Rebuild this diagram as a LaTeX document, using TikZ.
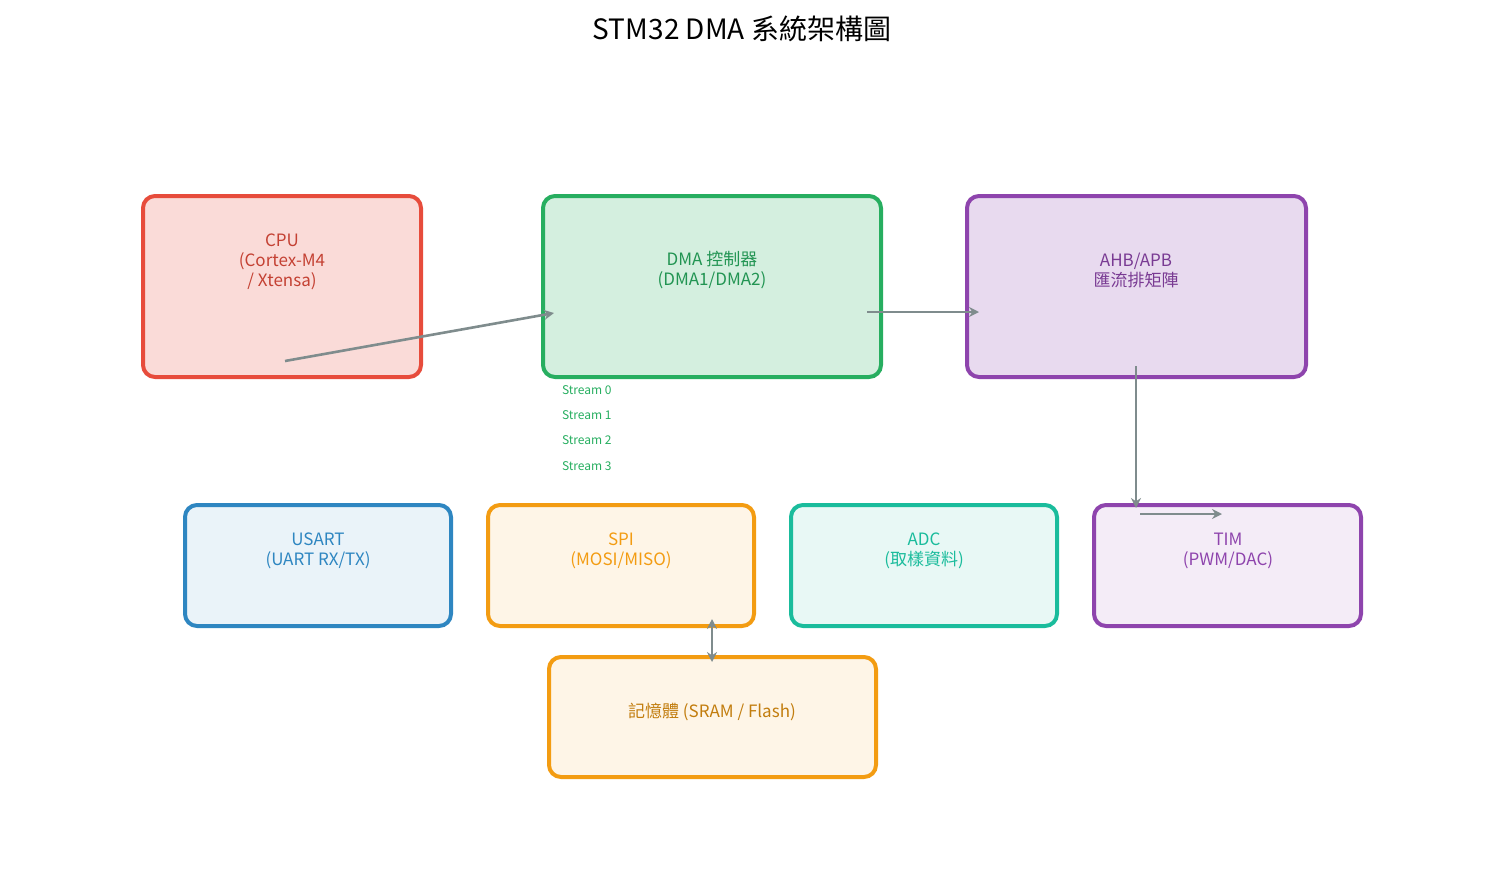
\documentclass[tikz,border=0pt]{standalone}
\usepackage{fontspec}
\setmainfont{Noto Sans CJK TC}
\usetikzlibrary{arrows.meta}
\definecolor{cpuc}{HTML}{E74C3C}
\definecolor{dmac}{HTML}{27AE60}
\definecolor{busc}{HTML}{8E44AD}
\definecolor{usartc}{HTML}{2E86C1}
\definecolor{spic}{HTML}{F39C12}
\definecolor{adcc}{HTML}{1ABC9C}
\definecolor{arrc}{HTML}{7F8C8D}
\tikzset{
  box/.style={draw, line width=2pt, rounded corners=6pt},
  lbl/.style={font=\fontsize{8.5}{10}\selectfont, align=center},
  link/.style={draw=arrc, line width=1.3pt, -{Stealth[length=5pt,width=5pt]}},
}
\begin{document}
\begin{tikzpicture}[x=0.5pt,y=-0.5pt]
  \useasboundingbox (0,0) rectangle (1485,884);

  \node (title) at (742,29) {\fontsize{14}{16}\selectfont STM32 DMA 系統架構圖};

  \filldraw[box, draw=cpuc, fill=cpuc!20] (143,196) rectangle (421,377);
  \filldraw[box, draw=dmac, fill=dmac!20] (543,196) rectangle (881,377);
  \filldraw[box, draw=busc, fill=busc!20] (967,196) rectangle (1306,377);

  \filldraw[box, draw=usartc, fill=usartc!10] (185,505) rectangle (451,626);
  \filldraw[box, draw=spic, fill=spic!10] (488,505) rectangle (754,626);
  \filldraw[box, draw=adcc, fill=adcc!10] (791,505) rectangle (1057,626);
  \filldraw[box, draw=busc, fill=busc!10] (1094,505) rectangle (1361,626);
  \filldraw[box, draw=spic, fill=spic!10] (549,657) rectangle (876,777);

  \node[lbl, text=cpuc!85!black] (cpu) at (282,262) {CPU\\(Cortex-M4\\/ Xtensa)};
  \node[lbl, text=dmac!85!black] (dma) at (712,270) {DMA 控制器\\(DMA1/DMA2)};
  \node[lbl, text=busc!85!black] (bus) at (1136,270) {AHB/APB\\匯流排矩陣};
  \node[lbl, text=usartc] (usart) at (318,551) {USART\\(UART RX/TX)};
  \node[lbl, text=spic] (spi) at (621,551) {SPI\\(MOSI/MISO)};
  \node[lbl, text=adcc] (adc) at (924,551) {ADC\\(取樣資料)};
  \node[lbl, text=busc] (tim) at (1228,551) {TIM\\(PWM/DAC)};
  \node[lbl, text=spic!80!black] (mem) at (712,712) {記憶體 (SRAM / Flash)};

  \foreach \i/\y in {0/390,1/415,2/440,3/466}
    \node[anchor=west, text=dmac, font=\fontsize{6}{7}\selectfont] (s\i) at (555,\y) {Stream \i};

  \coordinate (cpuout) at (285,361);
  \coordinate (dmain) at (554,313);
  \coordinate (dmaout) at (867,312);
  \coordinate (busin) at (979,312);
  \coordinate (busout) at (1136,366);
  \coordinate (timin) at (1136,508);
  \coordinate (tima) at (1140,514);
  \coordinate (timb) at (1222,514);
  \coordinate (spiout) at (712,619);
  \coordinate (memin) at (712,662);

  \draw[link] (cpuout) -- (dmain);
  \draw[link] (dmaout) -- (busin);
  \draw[link] (busout) -- (timin);
  \draw[link] (tima) -- (timb);
  \draw[link, {Stealth[length=5pt,width=5pt]}-{Stealth[length=5pt,width=5pt]}] (spiout) -- (memin);
\end{tikzpicture}
\end{document}
